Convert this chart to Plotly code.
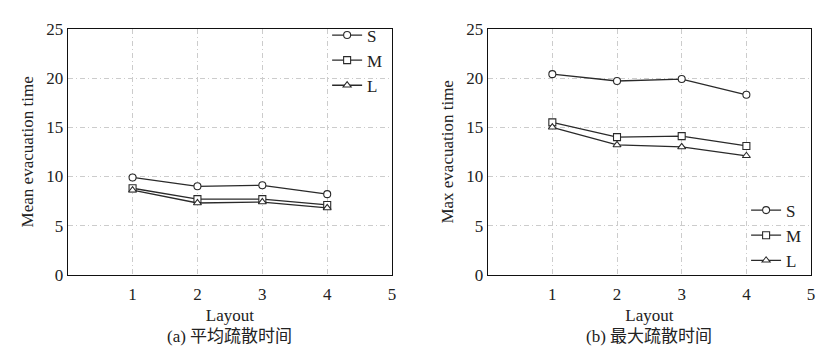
import plotly.graph_objects as go

layouts = [1, 2, 3, 4]
series_names = ["S", "M", "L"]
mean_S = [9.9, 9.0, 9.1, 8.2]
mean_M = [8.8, 7.7, 7.7, 7.1]
mean_L = [8.6, 7.3, 7.4, 6.8]
max_S = [20.4, 19.7, 19.9, 18.3]
max_M = [15.5, 14.0, 14.1, 13.1]
max_L = [15.0, 13.2, 13.0, 12.1]
x_ticks = [1, 2, 3, 4, 5]
y_ticks = [0, 5, 10, 15, 20, 25]
captions = ["(a) 平均疏散时间", "(b) 最大疏散时间"]
y_titles = ["Mean evacuation time", "Max evacuation time"]
x_title = "Layout"

symbols = {"S": "circle", "M": "square", "L": "triangle-up"}
FONT = "Liberation Serif, Times New Roman, Noto Sans CJK SC, serif"
LC = "#2a2a2a"
FS = 17

fig = go.Figure()
data = [
    ([mean_S, mean_M, mean_L], "x", "y", "legend"),
    ([max_S, max_M, max_L], "x2", "y2", "legend2"),
]
for vals, xa, ya, lg in data:
    for name, v in zip(series_names, vals):
        fig.add_trace(go.Scatter(
            x=layouts, y=v, name=name, mode="lines+markers",
            xaxis=xa, yaxis=ya, legend=lg,
            line=dict(color=LC, width=1.3),
            marker=dict(symbol=symbols[name], size=7, color="white",
                        line=dict(color=LC, width=1.1)),
        ))

axis_common = dict(
    showline=True, linecolor="#111", linewidth=1, mirror=True,
    showgrid=True, gridcolor="#cccccc", griddash="5px,3px,1px,3px", gridwidth=1,
    zeroline=False, ticks="", tickfont=dict(family=FONT, size=FS, color="#222"),
)
xcommon = dict(range=[0, 5], tickvals=x_ticks, ticklabelstandoff=4,
               title=dict(text=x_title, font=dict(family=FONT, size=FS), standoff=5))

fig.update_layout(
    width=831, height=352,
    margin=dict(l=0, r=0, t=0, b=0),
    paper_bgcolor="white", plot_bgcolor="white",
    font=dict(family=FONT, color="#222"),
    xaxis=dict(domain=[68/831, 394/831], anchor="y", **xcommon, **axis_common),
    yaxis=dict(domain=[71/352, 331/352], range=[0, 25], tickvals=y_ticks,
               title=dict(text=y_titles[0], font=dict(family=FONT, size=FS), standoff=8),
               anchor="x", **axis_common),
    xaxis2=dict(domain=[490/831, 815/831], anchor="y2", **xcommon, **axis_common),
    yaxis2=dict(domain=[71/352, 331/352], range=[0, 25], tickvals=y_ticks,
                title=dict(text=y_titles[1], font=dict(family=FONT, size=FS), standoff=8),
                anchor="x2", **axis_common),
    legend=dict(x=390/831, xanchor="right", y=343/352, yanchor="top",
                bgcolor="rgba(0,0,0,0)", font=dict(family=FONT, size=FS),
                itemwidth=30, tracegroupgap=0),
    legend2=dict(x=811/831, xanchor="right", y=158/352, yanchor="top",
                 bgcolor="rgba(0,0,0,0)", font=dict(family=FONT, size=FS),
                 itemwidth=30, tracegroupgap=0),
    showlegend=True,
)

for cx, cap in zip([231/831, 652/831], captions):
    fig.add_annotation(x=cx, y=15/352, xref="paper", yref="paper",
                       text=cap, showarrow=False, xanchor="center", yanchor="middle",
                       yshift=-9, borderpad=0,
                       font=dict(family=FONT, size=FS, color="#222"))

fig.write_html("out.html")
